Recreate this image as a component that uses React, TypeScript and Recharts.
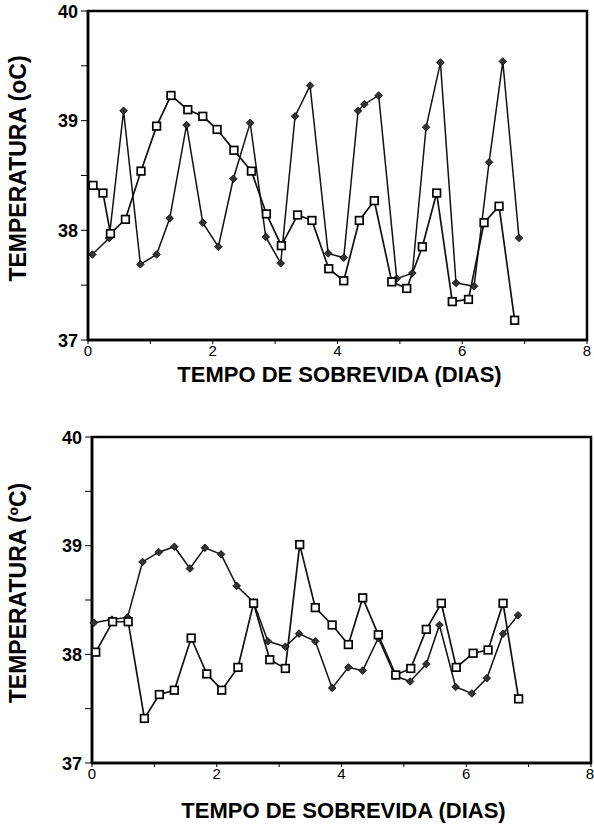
import React from "react";
import { LineChart, Line, XAxis, YAxis, ReferenceArea, Label } from "recharts";

// survival time (days) and temperature (oC)
const topSquareDays = [0.08, 0.24, 0.36, 0.6, 0.85, 1.1, 1.33, 1.6, 1.84, 2.07, 2.34, 2.62, 2.86, 3.1, 3.36, 3.59, 3.86, 4.1, 4.35, 4.59, 4.87, 5.11, 5.36, 5.59, 5.84, 6.1, 6.35, 6.59, 6.84];
const topSquareTemps = [38.41, 38.34, 37.97, 38.1, 38.54, 38.95, 39.23, 39.1, 39.04, 38.92, 38.73, 38.54, 38.15, 37.86, 38.14, 38.09, 37.65, 37.54, 38.09, 38.27, 37.53, 37.47, 37.85, 38.34, 37.35, 37.37, 38.07, 38.22, 37.18];
const topDiamondDays = [0.07, 0.34, 0.57, 0.84, 1.1, 1.31, 1.58, 1.84, 2.09, 2.33, 2.6, 2.85, 3.09, 3.32, 3.56, 3.85, 4.1, 4.33, 4.43, 4.66, 4.95, 5.2, 5.42, 5.65, 5.9, 6.19, 6.43, 6.65, 6.91];
const topDiamondTemps = [37.78, 37.93, 39.09, 37.69, 37.78, 38.11, 38.96, 38.07, 37.85, 38.47, 38.98, 37.94, 37.7, 39.04, 39.32, 37.79, 37.75, 39.09, 39.15, 39.23, 37.56, 37.61, 38.94, 39.53, 37.52, 37.49, 38.62, 39.54, 37.93];

const bottomSquareDays = [0.06, 0.33, 0.58, 0.84, 1.08, 1.32, 1.59, 1.84, 2.08, 2.34, 2.59, 2.85, 3.1, 3.33, 3.58, 3.85, 4.11, 4.34, 4.59, 4.87, 5.11, 5.36, 5.6, 5.84, 6.11, 6.35, 6.59, 6.84];
const bottomSquareTemps = [38.02, 38.3, 38.3, 37.41, 37.63, 37.67, 38.15, 37.82, 37.67, 37.88, 38.47, 37.95, 37.87, 39.01, 38.43, 38.27, 38.09, 38.52, 38.18, 37.81, 37.87, 38.23, 38.47, 37.88, 38.01, 38.04, 38.47, 37.59];
const bottomDiamondDays = [0.03, 0.32, 0.57, 0.81, 1.07, 1.32, 1.57, 1.81, 2.07, 2.32, 2.59, 2.82, 3.1, 3.32, 3.58, 3.85, 4.11, 4.34, 4.59, 4.86, 5.1, 5.36, 5.57, 5.83, 6.09, 6.33, 6.59, 6.83];
const bottomDiamondTemps = [38.29, 38.32, 38.34, 38.85, 38.94, 38.99, 38.79, 38.98, 38.92, 38.63, 38.48, 38.12, 38.07, 38.19, 38.12, 37.69, 37.88, 37.85, 38.15, 37.8, 37.75, 37.91, 38.27, 37.7, 37.64, 37.78, 38.19, 38.36];

const xTicks = [0, 1, 2, 3, 4, 5, 6, 7, 8];
const yTicks = [37, 37.5, 38, 38.5, 39, 39.5, 40];
const xTitle = "TEMPO DE SOBREVIDA (DIAS)";

const zip = (xs: number[], ys: number[]) => xs.map((x, i) => ({ x, y: ys[i] }));

const FONT = "'Liberation Sans', Arial, Helvetica, sans-serif";

const SquareDot = (props: any) => {
  const { cx, cy } = props;
  if (cx == null || cy == null) return null;
  return <rect x={cx - 3.8} y={cy - 3.8} width={7.6} height={7.6} fill="#fff" stroke="#000" strokeWidth={1.7} />;
};

const DiamondDot = (props: any) => {
  const { cx, cy } = props;
  if (cx == null || cy == null) return null;
  const r = 3.8;
  return <polygon points={`${cx},${cy - r} ${cx + r},${cy} ${cx},${cy + r} ${cx - r},${cy}`} fill="#333" stroke="#000" strokeWidth={0.8} />;
};

const XTick = (props: any) => {
  const { x, y, payload } = props;
  if (payload.value % 2 !== 0) return null;
  return (
    <text x={x} y={y + 10} textAnchor="middle" fontFamily={FONT} fontSize={15} fill="#000">
      {payload.value}
    </text>
  );
};

const YTick = (props: any) => {
  const { x, y, payload } = props;
  if (payload.value % 1 !== 0) return null;
  return (
    <text x={x - 1} y={y + 6.5} textAnchor="end" fontFamily={FONT} fontSize={18} fontWeight="bold" fill="#000">
      {payload.value}
    </text>
  );
};

type PanelProps = {
  squares: { x: number; y: number }[];
  diamonds: { x: number; y: number }[];
  yLabel: string;
  top: number;
  height: number;
  marginTop: number;
  axisHeight: number;
  yAxisWidth: number;
  titleOffset: number;
};

const Panel = ({ squares, diamonds, yLabel, top, height, marginTop, axisHeight, yAxisWidth, titleOffset }: PanelProps) => (
  <div style={{ position: "absolute", left: 0, top }}>
    <LineChart width={594} height={height} margin={{ top: marginTop, right: 594 - yAxisWidth - 499, left: 0, bottom: 0 }}>
      <XAxis
        type="number"
        dataKey="x"
        domain={[0, 8]}
        ticks={xTicks}
        tick={<XTick />}
        tickSize={4}
        height={axisHeight}
        axisLine={{ stroke: "#000", strokeWidth: 2.5 }}
        tickLine={{ stroke: "#000" }}
      >
        <Label
          content={(p: any) => {
            const vb = p.viewBox;
            return (
              <text x={vb.x + vb.width / 2 + 2} y={vb.y + titleOffset} textAnchor="middle" dominantBaseline="central" fontFamily={FONT} fontSize={22} fontWeight="bold" fill="#000">
                {xTitle}
              </text>
            );
          }}
        />
      </XAxis>
      <YAxis
        type="number"
        dataKey="y"
        domain={[37, 40]}
        ticks={yTicks}
        tick={<YTick />}
        tickSize={7}
        width={yAxisWidth}
        axisLine={{ stroke: "#000", strokeWidth: 2.5 }}
        tickLine={{ stroke: "#000" }}
      >
        <Label
          content={(p: any) => {
            const vb = p.viewBox;
            const cy = vb.y + vb.height / 2 - 7;
            return (
              <text x={18} y={cy} transform={`rotate(-90 18 ${cy})`} textAnchor="middle" dominantBaseline="central" fontFamily={FONT} fontSize={23} fontWeight="bold" fill="#000">
                {yLabel}
              </text>
            );
          }}
        />
      </YAxis>
      <ReferenceArea x1={0} x2={8} y1={37} y2={40} fill="none" stroke="#000" strokeWidth={2.5} ifOverflow="visible" />
      <Line data={diamonds} dataKey="y" type="linear" stroke="#111" strokeWidth={1.5} dot={<DiamondDot />} isAnimationActive={false} />
      <Line data={squares} dataKey="y" type="linear" stroke="#111" strokeWidth={1.7} dot={<SquareDot />} isAnimationActive={false} />
    </LineChart>
  </div>
);

export default function App() {
  return (
    <div style={{ position: "absolute", left: 0, top: 0, width: 594, height: 824, background: "#fff", overflow: "hidden" }}>
      <Panel
        squares={zip(topSquareDays, topSquareTemps)}
        diamonds={zip(topDiamondDays, topDiamondTemps)}
        yLabel="TEMPERATURA (oC)"
        top={0}
        height={400}
        marginTop={11}
        axisHeight={60}
        yAxisWidth={88}
        titleOffset={34}
      />
      <Panel
        squares={zip(bottomSquareDays, bottomSquareTemps)}
        diamonds={zip(bottomDiamondDays, bottomDiamondTemps)}
        yLabel="TEMPERATURA (ºC)"
        top={412}
        height={412}
        marginTop={25}
        axisHeight={61}
        yAxisWidth={92}
        titleOffset={47}
      />
    </div>
  );
}
